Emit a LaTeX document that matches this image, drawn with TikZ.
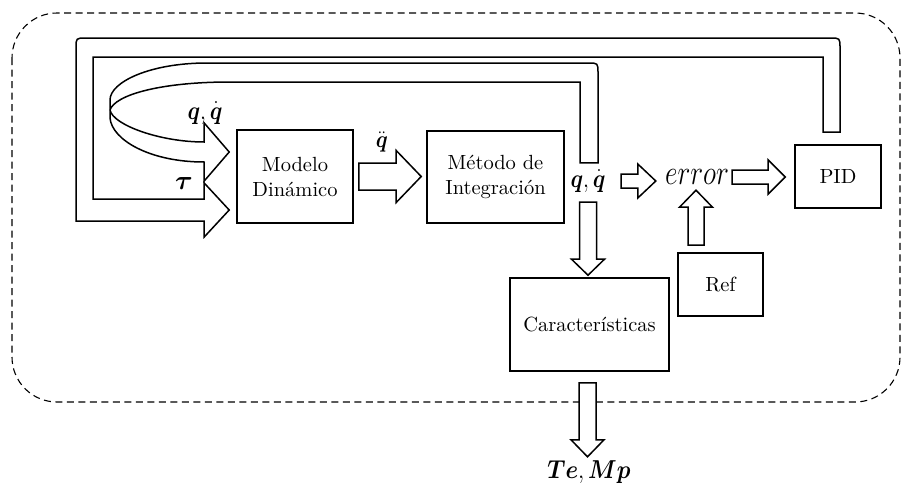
\documentclass[tikz,border=0pt]{standalone}
\usepackage{amsmath}
\usepackage{fontspec}
\newfontfamily\lmten{lmroman10-regular.otf}
\usetikzlibrary{calc}

\newcommand\boxfont{\lmten\fontsize{20.5}{25}\selectfont}
\newcommand\lblfont{\fontsize{20.74}{26}\selectfont}

\tikzset{
  box/.style={draw, line width=1.6pt, fill=white, align=center, font=\boxfont, inner sep=0pt},
  blk/.style={draw, line width=1.5pt, fill=white, line join=miter},
  lbl/.style={inner sep=0pt, font=\lblfont},
  frame/.style={draw, line width=1.1pt, dash pattern=on 7pt off 4.5pt, rounded corners=45pt},
}

% hollow block arrows: #1 start, #2 tip, #3 shaft half width, #4 head half width, #5 head length
\newcommand\blockright[5]{\draw[blk] let \p1=#1, \p2=#2 in
  (\x1,\y1+#3) -- (\x2-#5,\y1+#3) -- (\x2-#5,\y1+#4) -- (\x2,\y1)
  -- (\x2-#5,\y1-#4) -- (\x2-#5,\y1-#3) -- (\x1,\y1-#3) -- cycle;}
\newcommand\blockdown[5]{\draw[blk] let \p1=#1, \p2=#2 in
  (\x1-#3,\y1) -- (\x1-#3,\y2+#5) -- (\x1-#4,\y2+#5) -- (\x1,\y2)
  -- (\x1+#4,\y2+#5) -- (\x1+#3,\y2+#5) -- (\x1+#3,\y1) -- cycle;}
\newcommand\blockup[5]{\draw[blk] let \p1=#1, \p2=#2 in
  (\x1-#3,\y1) -- (\x1-#3,\y2-#5) -- (\x1-#4,\y2-#5) -- (\x1,\y2)
  -- (\x1+#4,\y2-#5) -- (\x1+#3,\y2-#5) -- (\x1+#3,\y1) -- cycle;}

% bold state symbols, set a little taller than the plain math font
\newcommand\qqd{\scalebox{1.05}[1.25]{$\boldsymbol{q},\dot{\boldsymbol{q}}$}}

\begin{document}
\begin{tikzpicture}[x=1pt, y=-1pt]
\useasboundingbox (0,0) rectangle (904,488);

% system boundary
\draw[frame] (12,13) rectangle (900,402);

% blocks
\node[box, minimum width=116, minimum height=93] (md)  at (295,176.5) {Modelo\\Dinámico};
\node[box, minimum width=137, minimum height=92] (mi)  at (495.5,177) {Método de\\Integración};
\node[box, minimum width=159, minimum height=93] (car) at (589.5,324.5) {Características};
\node[box, minimum width=85,  minimum height=63] (ref) at (720.5,284.5) {Ref};
\node[box, minimum width=86,  minimum height=63] (pid) at (838,176.5) {PID};

% signal labels
\node[lbl, minimum width=36, minimum height=30] (qd) at (588,181) {\qqd};
\node[lbl, minimum width=66, minimum height=24, font=\fontsize{24.88}{30}\selectfont] (err) at (697,177)
  {\scalebox{1.1}[1.4]{$error$}};
\node[lbl, minimum width=80, minimum height=24] (temp) at (589,472)
  {\scalebox{1.1}[1.25]{$\boldsymbol{Te},\boldsymbol{Mp}$}};
\node[lbl] (qin) at (205,113) {\qqd};
\node[lbl] (tau) at (184,184) {\scalebox{1.3}[1.3]{$\boldsymbol{\tau}$}};
\node[lbl] (qdd) at (382,142) {\scalebox{1}[1.15]{$\ddot{\boldsymbol{q}}$}};

% torque feedback from the controller
\coordinate (pidout) at ([xshift=-6.5pt,yshift=12pt]pid.north);
\coordinate (pidR) at ([xshift=8.5pt]pidout);
\coordinate (pidL) at ([xshift=-8.5pt]pidout);
\coordinate (pidRc) at ([xshift=-10pt]pidR);
\coordinate (tautip) at ([xshift=-7pt,yshift=-33.5pt]md.west);
\coordinate (tauback) at ([xshift=-25pt]tautip);
\coordinate (tauB1) at ([yshift=-11pt]tauback);
\coordinate (tauB2) at ([yshift=11pt]tauback);
\coordinate (tauH1) at ([yshift=-27pt]tauback);
\coordinate (tauH2) at ([yshift=27pt]tauback);
\draw[blk] (pidR) -- (pidR |- 0,48) .. controls (pidR |- 0,38) .. (pidRc |- 0,38)
  -- (86,38) .. controls (76,38) .. (76,48)
  -- (76,0 |- tauB1) -- (tauB1) -- (tauH1) -- (tautip) -- (tauH2) -- (tauB2)
  -- (93,0 |- tauB2) -- (93,57) -- (pidL |- 0,57) -- (pidL) -- cycle;

% state feedback from the integrator
\coordinate (qout) at ([xshift=1pt,yshift=3pt]qd.north);
\coordinate (qR) at ([xshift=9pt]qout);
\coordinate (qL) at ([xshift=-9pt]qout);
\coordinate (qRc) at ([xshift=-10pt]qR);
\coordinate (qtip) at ([xshift=-7pt,yshift=24.5pt]md.west);
\coordinate (qback) at ([xshift=-25pt]qtip);
\coordinate (qB1) at ([yshift=-10pt]qback);
\coordinate (qB2) at ([yshift=10pt]qback);
\coordinate (qH1) at ([yshift=-29pt]qback);
\coordinate (qH2) at ([yshift=29pt]qback);
\draw[blk] (qL) -- (qL |- 0,82) -- (230,82)
  .. controls (160,82) and (115,95) .. (110,110)
  .. controls (113,125) and (160,142) .. (qB2)
  -- (qH2) -- (qtip) -- (qH1) -- (qB1)
  .. controls (150,162) and (112,140) .. (110,118) -- (110,100)
  .. controls (110,82) and (150,63) .. (207,63)
  -- (qRc |- 0,63) .. controls (qR |- 0,63) .. (qR |- 0,73) -- (qR) -- cycle;

% forward connectors
\blockright{([xshift=5pt]md.east)}{([xshift=-5pt]mi.west)}{13.5pt}{26pt}{25pt}
\blockright{([xshift=15pt]qd.east)}{([xshift=-8pt]err.west)}{7pt}{17pt}{18pt}
\blockright{([xshift=2pt]err.east)}{([xshift=-9pt]pid.west)}{7pt}{17pt}{17pt}
\blockup{([xshift=-24.5pt,yshift=7pt]ref.north)}{([yshift=-1pt]err.south)}{8pt}{16.5pt}{17pt}
\blockdown{([yshift=-6pt]qd.south)}{([yshift=2pt]car.north)}{8.5pt}{16.5pt}{16pt}
\blockdown{([xshift=-2pt,yshift=-11pt]car.south)}{([yshift=3pt]temp.north)}{8.5pt}{16.5pt}{17pt}
\end{tikzpicture}
\end{document}
